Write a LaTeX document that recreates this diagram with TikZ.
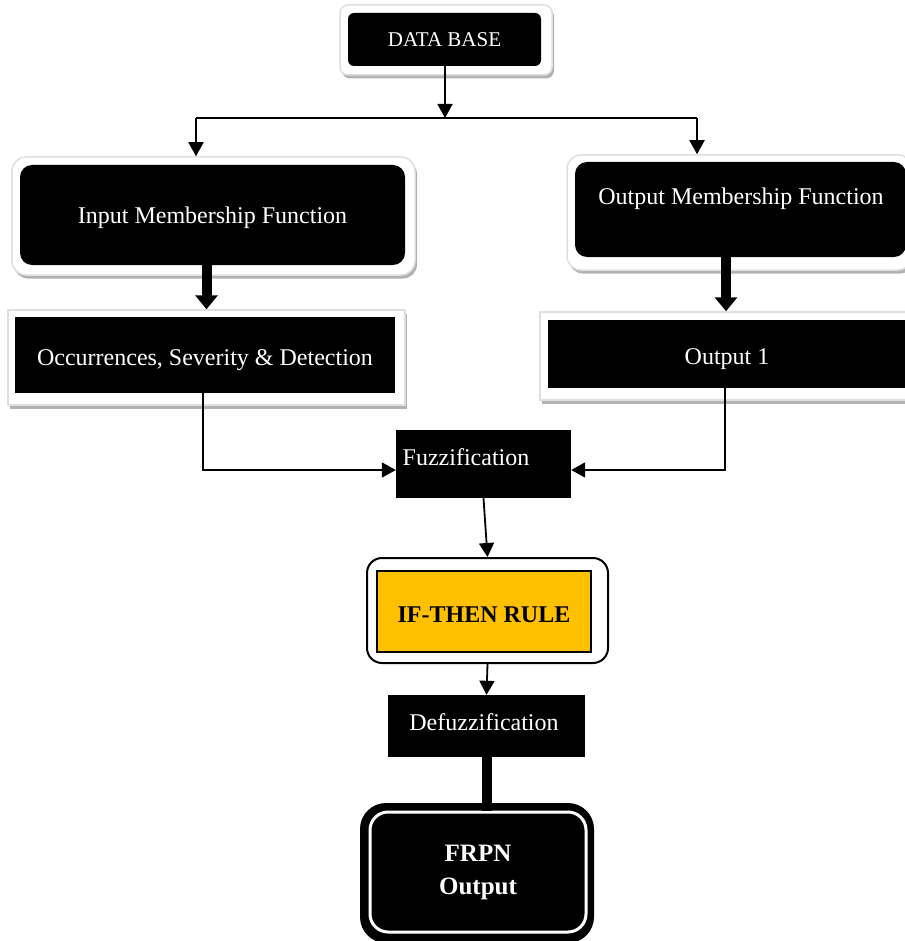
\documentclass[tikz,border=0pt]{standalone}
\usepackage{fontspec}
\setmainfont{Liberation Serif}
\usetikzlibrary{shadows,arrows.meta}
\begin{document}
\begin{tikzpicture}[x=1pt,y=-1pt,
  frame/.style={draw=gray!25, line width=1.5pt, fill=white, inner sep=0pt,
    drop shadow={shadow xshift=2pt, shadow yshift=-3.5pt, fill=gray!60, opacity=1}},
  blk/.style={fill=black, text=white, inner sep=0pt, font=\fontsize{24}{28}\selectfont},
  lbl/.style={text=white, inner sep=0pt, font=\fontsize{24}{28}\selectfont},
  arr/.style={line width=1.8pt, -{Triangle[length=14pt,width=15pt]}},
  bigarr/.style={line width=10pt, -{Triangle[length=14pt,width=22pt]}}]
\useasboundingbox (0,0) rectangle (904,941);

% DATA BASE
\node[frame, rounded corners=8pt, minimum width=212pt, minimum height=70pt] (dbout) at (446,40) {};
\node[blk, rounded corners=6pt, minimum width=193pt, minimum height=53pt, font=\fontsize{21}{25}\selectfont] (db) at (444.5,39.5) {DATA BASE};

% Input Membership Function
\node[frame, rounded corners=14pt, minimum width=403pt, minimum height=118pt] (inmfout) at (213.5,216) {};
\node[blk, rounded corners=12pt, minimum width=385pt, minimum height=100pt] (inmf) at (212.5,215) {\raisebox{-3pt}[17pt][5pt]{Input Membership Function}};

% Occurrences
\node[frame, minimum width=397pt, minimum height=95pt] (occout) at (206.5,357.5) {};
\node[blk, minimum width=380pt, minimum height=76pt] (occ) at (205,355) {\raisebox{-4pt}[17pt][5pt]{Occurrences, Severity \& Detection}};

% Output Membership Function
\node[frame, rounded corners=14pt, minimum width=345pt, minimum height=115pt] (omfout) at (739.5,212.5) {};
\node[blk, rounded corners=12pt, minimum width=331pt, minimum height=95pt] (omf) at (740.5,209.5) {};
\node[lbl] (omft) at (741,199) {Output Membership Function};

% Output 1
\node[frame, minimum width=372pt, minimum height=88pt] (o1out) at (726,356) {};
\node[blk, minimum width=358pt, minimum height=68pt] (o1) at (727,354) {\raisebox{-4pt}[17pt][5pt]{Output 1}};

% Fuzzification
\node[blk, minimum width=175pt, minimum height=68pt] (fuzz) at (483.5,464) {};
\node[lbl] (fuzzt) at (466,457) {Fuzzification};

% IF-THEN RULE
\node[draw=black, line width=2pt, fill=white, rounded corners=15pt, minimum width=241pt, minimum height=105pt] (ifout) at (487.5,610.5) {};
\node[draw=black, line width=2pt, fill={rgb,255:red,255;green,192;blue,0}, inner sep=0pt, minimum width=214pt, minimum height=81pt, font=\bfseries\fontsize{24}{28}\selectfont] (ifr) at (484,611.5) {\raisebox{-2pt}[17pt][0pt]{IF-THEN RULE}};

% Defuzzification
\node[blk, minimum width=197pt, minimum height=62pt] (defuzz) at (486.5,726) {};
\node[lbl] (defuzzt) at (484,722) {Defuzzification};

% FRPN Output
\node[fill=black, rounded corners=26pt, minimum width=234pt, minimum height=140pt, inner sep=0pt] (frpn) at (477,873) {};
\node[draw=white, line width=3pt, rounded corners=18pt, minimum width=216pt, minimum height=120pt, inner sep=0pt,
  text=white, align=center, font=\bfseries\fontsize{25}{33}\selectfont] (frpnin) at (478,872) {FRPN\\Output};

% connectors
\coordinate (j) at (445,118);
\coordinate (jl) at (196,118);
\coordinate (jr) at (697,118);
\draw[arr] (db.south -| j) -- (j);
\draw[line width=1.8pt] (jl) -- (jr);
\draw[arr] (jl) -- (jl |- inmfout.north);
\draw[arr] (jr) -- (jr |- omfout.north);

\draw[bigarr] (occout.north |- inmf.south) -- (occout.north);
\draw[bigarr] (o1out.north |- omf.south) -- (o1out.north);

\coordinate (fl) at (203,470);
\coordinate (fr) at (725,470);
\draw[arr] (fl |- occ.south) -- (fl) -- (fl -| fuzz.west);
\draw[arr] (fr |- o1.south) -- (fr) -- (fr -| fuzz.east);

\draw[arr] (fuzz.south) -- (ifout.north);
\draw[arr] (ifout.south) -- (defuzz.north);
\draw[line width=10pt] (defuzz.south) -- (defuzz.south |- frpnin.north);
\end{tikzpicture}
\end{document}
